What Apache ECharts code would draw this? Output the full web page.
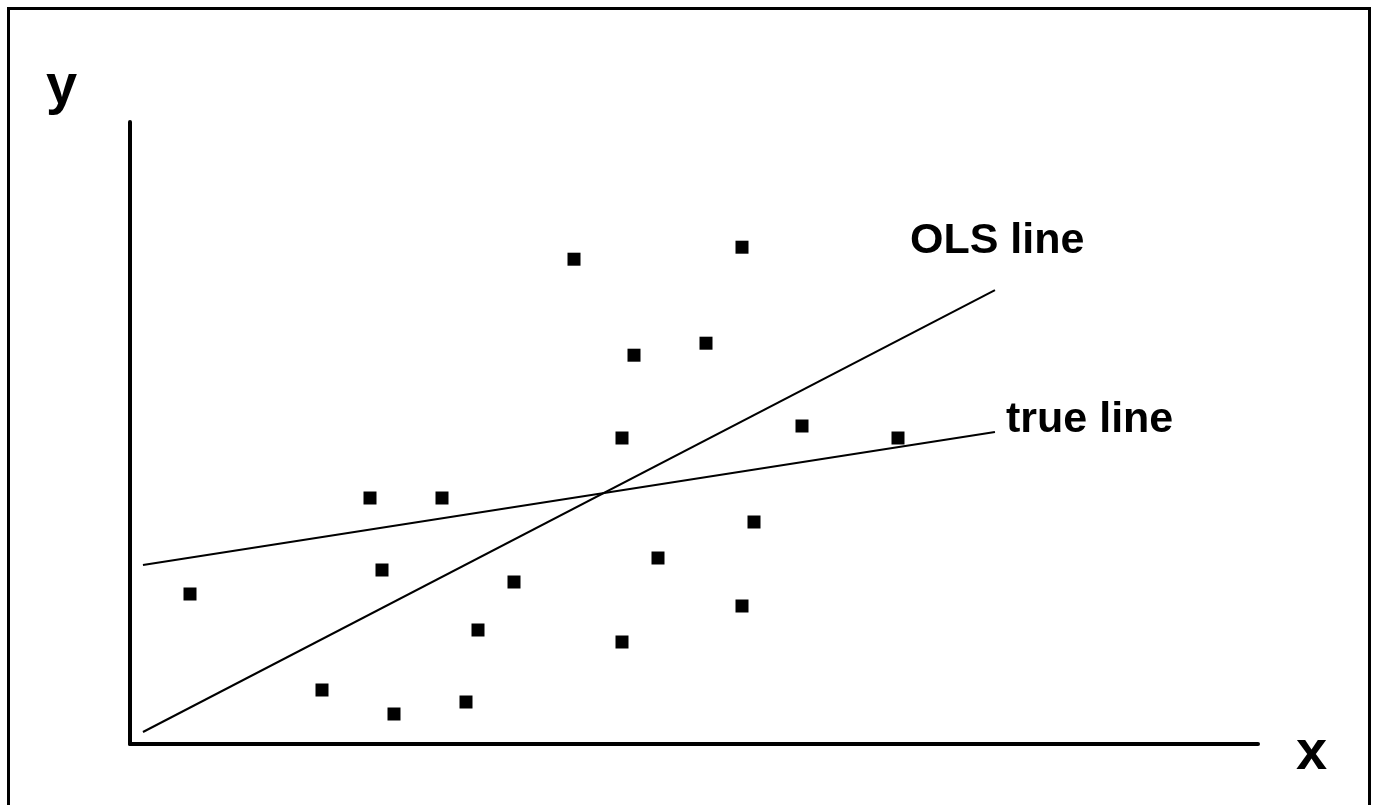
<!DOCTYPE html>
<html>
<head>
<meta charset="utf-8">
<script src="https://cdn.jsdelivr.net/npm/echarts@6/dist/echarts.min.js"></script>
<style>
html,body{margin:0;padding:0;background:#fff;}
#chart{width:1377px;height:805px;}
</style>
</head>
<body>
<div id="chart"></div>
<script>
// Data (x, y in abstract units)
var pointX = [5, 16, 20, 21, 22, 26, 28, 29, 32, 37, 41, 41, 42, 44, 48, 51, 51, 52, 56, 64];
var pointY = [12.5, 4.5, 20.5, 14.5, 2.5, 20.5, 3.5, 9.5, 13.5, 40.4, 25.5, 8.5, 32.4, 15.5, 33.4, 41.4, 11.5, 18.5, 26.5, 25.5];
var olsLineX = [1.08, 72.08];
var olsLineY = [1.0, 37.83];
var trueLineX = [1.08, 72.08];
var trueLineY = [14.92, 26.0];
var labels = { x: 'x', y: 'y', ols: 'OLS line', trueLine: 'true line' };

var FONT = '"Liberation Sans", Arial, sans-serif';
var chart = echarts.init(document.getElementById('chart'), null, {renderer: 'canvas'});
function zip(a, b) { return a.map(function (v, i) { return [v, b[i]]; }); }

var option = {
  backgroundColor: '#ffffff',
  animation: false,
  grid: { left: 130, top: 122, width: 1128, height: 622 },
  xAxis: { type: 'value', min: 0, max: 94,
    axisLine: { show: true, onZero: false, lineStyle: { color: '#000', width: 4 } },
    axisTick: { show: false }, axisLabel: { show: false }, splitLine: { show: false } },
  yAxis: { type: 'value', min: 0, max: 51.8333,
    axisLine: { show: true, onZero: false, lineStyle: { color: '#000', width: 4 } },
    axisTick: { show: false }, axisLabel: { show: false }, splitLine: { show: false } },
  series: [
    { type: 'line', data: zip(olsLineX, olsLineY), symbol: 'none', lineStyle: { color: '#000', width: 2 }, silent: true },
    { type: 'line', data: zip(trueLineX, trueLineY), symbol: 'none', lineStyle: { color: '#000', width: 2 }, silent: true },
    { type: 'scatter', data: zip(pointX, pointY), symbol: 'rect', symbolSize: 13, itemStyle: { color: '#000', opacity: 1 }, silent: true }
  ],
  graphic: [
    { type: 'rect', shape: { x: 8.5, y: 8.5, width: 1361, height: 830 }, style: { fill: null, stroke: '#000', lineWidth: 3 }, silent: true },
    { type: 'text', x: 46, y: 88, style: { text: labels.y, font: 'bold 56px ' + FONT, fill: '#000', verticalAlign: 'middle', align: 'left' } },
    { type: 'text', x: 1296, y: 754, style: { text: labels.x, font: 'bold 56px ' + FONT, fill: '#000', verticalAlign: 'middle', align: 'left' } },
    { type: 'text', x: 910, y: 241, style: { text: labels.ols, font: 'bold 43px ' + FONT, fill: '#000', verticalAlign: 'middle', align: 'left' } },
    { type: 'text', x: 1006, y: 420, style: { text: labels.trueLine, font: 'bold 43px ' + FONT, fill: '#000', verticalAlign: 'middle', align: 'left' } }
  ]
};
chart.setOption(option);
</script>
</body>
</html>
